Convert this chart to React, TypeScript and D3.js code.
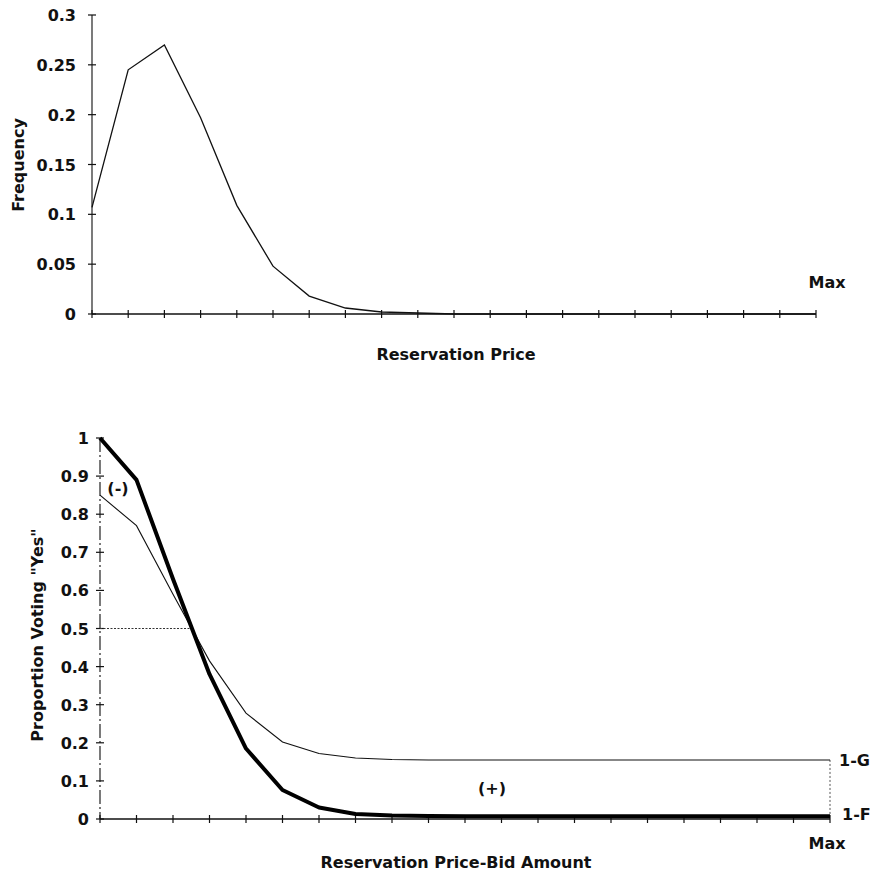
import React from "react";
import * as d3 from "d3";

// top panel: distribution of reservation prices
const freqTicks = [0, 0.05, 0.1, 0.15, 0.2, 0.25, 0.3];
const freqLabels = ["0", "0.05", "0.1", "0.15", "0.2", "0.25", "0.3"];
const frequency = [
  0.107, 0.245, 0.27, 0.197, 0.109, 0.048, 0.018, 0.006, 0.002, 0.001, 0,
  0, 0, 0, 0, 0, 0, 0, 0, 0, 0,
];

// bottom panel: proportion voting yes
const yesTicks = [0, 0.1, 0.2, 0.3, 0.4, 0.5, 0.6, 0.7, 0.8, 0.9, 1];
const yesLabels = ["0", "0.1", "0.2", "0.3", "0.4", "0.5", "0.6", "0.7", "0.8", "0.9", "1"];
const oneMinusF = [
  1.0, 0.89, 0.63, 0.38, 0.185, 0.076, 0.03, 0.013, 0.009, 0.008, 0.007,
  0.007, 0.007, 0.007, 0.007, 0.007, 0.007, 0.007, 0.007, 0.007, 0.007,
];
const oneMinusG = [
  0.85, 0.77, 0.59, 0.415, 0.278, 0.202, 0.172, 0.16, 0.156, 0.155, 0.155,
  0.155, 0.155, 0.155, 0.155, 0.155, 0.155, 0.155, 0.155, 0.155, 0.155,
];

const FONT = "'DejaVu Sans', sans-serif";

function App() {
  const idx = d3.range(frequency.length);

  // top chart scales
  const x1 = d3.scaleLinear().domain([0, 20]).range([92, 816]);
  const y1 = d3.scaleLinear().domain([0, 0.3]).range([314, 15]);
  const line1 = d3
    .line<number>()
    .x((d, i) => x1(i))
    .y((d) => y1(d));

  // bottom chart scales
  const x2 = d3.scaleLinear().domain([0, 20]).range([100, 830]);
  const y2 = d3.scaleLinear().domain([0, 1]).range([819, 438]);
  const line2 = d3
    .line<number>()
    .x((d, i) => x2(i))
    .y((d) => y2(d));

  const last = idx.length - 1;

  return (
    <svg
      width={875}
      height={876}
      style={{ position: "absolute", left: 0, top: 0, background: "#fff" }}
      fontFamily={FONT}
      fontWeight="bold"
    >
      {/* ---------- top chart ---------- */}
      <g>
        <line x1={x1(0)} x2={x1(0)} y1={y1(0.3)} y2={y1(0)} stroke="#222" strokeWidth={1.2} />
        {freqTicks.map((t, i) => (
          <g key={"ft" + i}>
            <line x1={x1(0) - 4} x2={x1(0) + 4} y1={y1(t)} y2={y1(t)} stroke="#111" strokeWidth={1.2} />
            <text x={76} y={y1(t) + 6} textAnchor="end" fontSize={16} fill="#111">
              {freqLabels[i]}
            </text>
          </g>
        ))}
        <line x1={x1(0)} x2={x1(20)} y1={y1(0)} y2={y1(0)} stroke="#111" strokeWidth={1.5} />
        {idx.map((i) => (
          <line key={"fx" + i} x1={x1(i)} x2={x1(i)} y1={y1(0) - 4} y2={y1(0) + 4} stroke="#111" strokeWidth={1.2} />
        ))}
        <path d={line1(frequency) || ""} fill="none" stroke="#111" strokeWidth={1.3} />
        <text
          transform={`translate(24, 165) rotate(-90)`}
          textAnchor="middle"
          fontSize={16}
          fill="#111"
        >
          Frequency
        </text>
        <text x={456} y={360} textAnchor="middle" fontSize={16} fill="#111">
          Reservation Price
        </text>
        <text x={827} y={288} textAnchor="middle" fontSize={16} fill="#111">
          Max
        </text>
      </g>

      {/* ---------- bottom chart ---------- */}
      <g>
        <line
          x1={x2(0)}
          x2={x2(0)}
          y1={y2(1)}
          y2={y2(0)}
          stroke="#222"
          strokeWidth={1.2}
          strokeDasharray="14 3 2 3"
        />
        {yesTicks.map((t, i) => (
          <g key={"yt" + i}>
            <line x1={x2(0) - 4} x2={x2(0) + 4} y1={y2(t)} y2={y2(t)} stroke="#111" strokeWidth={1.2} />
            <text x={89} y={y2(t) + 6} textAnchor="end" fontSize={16} fill="#111">
              {yesLabels[i]}
            </text>
          </g>
        ))}
        <line x1={x2(0)} x2={x2(20)} y1={y2(0)} y2={y2(0)} stroke="#111" strokeWidth={1.5} />
        {idx.map((i) => (
          <line key={"yx" + i} x1={x2(i)} x2={x2(i)} y1={y2(0) - 4} y2={y2(0) + 4} stroke="#111" strokeWidth={1.2} />
        ))}
        {/* dotted guide at 0.5 */}
        <line
          x1={x2(0)}
          x2={x2(2.45)}
          y1={y2(0.5)}
          y2={y2(0.5)}
          stroke="#333"
          strokeWidth={1}
          strokeDasharray="2 1.5"
        />
        {/* dotted gap at the right end */}
        <line
          x1={x2(last)}
          x2={x2(last)}
          y1={y2(oneMinusG[last])}
          y2={y2(oneMinusF[last])}
          stroke="#555"
          strokeWidth={1}
          strokeDasharray="2 2"
        />
        <path d={line2(oneMinusG) || ""} fill="none" stroke="#111" strokeWidth={1.1} />
        <path d={line2(oneMinusF) || ""} fill="none" stroke="#000" strokeWidth={4} strokeLinejoin="round" />
        <text x={118} y={494} textAnchor="middle" fontSize={16} fill="#111">
          (-)
        </text>
        <text x={492} y={794} textAnchor="middle" fontSize={16} fill="#111">
          (+)
        </text>
        <text x={839} y={y2(oneMinusG[last]) + 6} fontSize={16} fill="#111">
          1-G
        </text>
        <text x={842} y={y2(oneMinusF[last]) + 4} fontSize={16} fill="#111">
          1-F
        </text>
        <text
          transform={`translate(43, 635) rotate(-90)`}
          textAnchor="middle"
          fontSize={16}
          fill="#111"
        >
          Proportion Voting "Yes"
        </text>
        <text x={456} y={868} textAnchor="middle" fontSize={16} fill="#111">
          Reservation Price-Bid Amount
        </text>
        <text x={827} y={849} textAnchor="middle" fontSize={16} fill="#111">
          Max
        </text>
      </g>
    </svg>
  );
}

export default App;
